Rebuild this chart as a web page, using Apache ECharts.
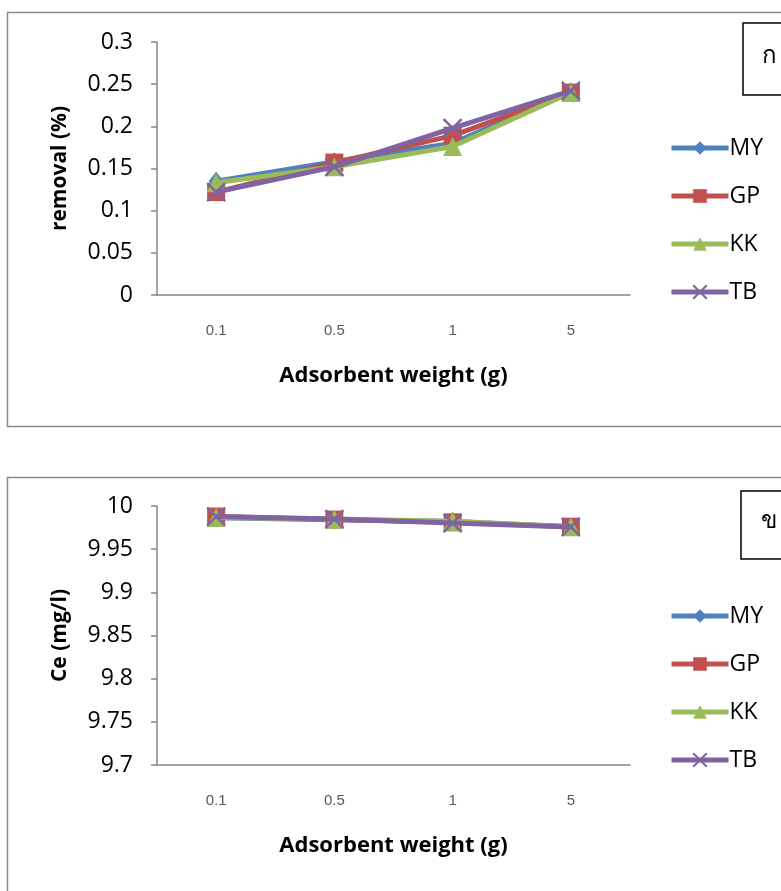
<!DOCTYPE html>
<html>
<head>
<meta charset="utf-8">
<script src="https://cdn.jsdelivr.net/npm/echarts@6/dist/echarts.min.js"></script>
<style>
html,body{margin:0;padding:0;background:#fff;}
#main{width:781px;height:891px;}
</style>
</head>
<body>
<div id="main"></div>
<script>
const categories = ['0.1', '0.5', '1', '5'];
const seriesNames = ['MY', 'GP', 'KK', 'TB'];

const removalMY = [0.135, 0.158, 0.180, 0.241];
const removalGP = [0.122, 0.157, 0.189, 0.240];
const removalKK = [0.133, 0.152, 0.176, 0.240];
const removalTB = [0.122, 0.152, 0.198, 0.242];

const ceMY = [9.9865, 9.9842, 9.9820, 9.9759];
const ceGP = [9.9878, 9.9843, 9.9811, 9.9760];
const ceKK = [9.9867, 9.9848, 9.9824, 9.9760];
const ceTB = [9.9878, 9.9848, 9.9802, 9.9758];

const removalTicks = { min: 0, max: 0.3, interval: 0.05 };
const ceTicks = { min: 9.7, max: 10, interval: 0.05 };

const colors = ['#4F81BD', '#C0504D', '#9BBB59', '#8064A2'];
const symbols = ['diamond', 'rect', 'triangle', 'path://M0,0L10,10M10,0L0,10'];
const symbolSizes = [[15, 19], 18, 19, 18];

const chart = echarts.init(document.getElementById('main'), null, { renderer: 'canvas' });

const axisGray = '#868686';
const FONT = '"Open Sans", "Noto Sans", sans-serif';

function makeSeries(name, idx, data, xi) {
  const isX = idx === 3;
  return {
    name: name,
    type: 'line',
    xAxisIndex: xi,
    yAxisIndex: xi,
    data: data,
    symbol: symbols[idx],
    symbolSize: symbolSizes[idx],
    showAllSymbol: true,
    lineStyle: { color: colors[idx], width: 5 },
    itemStyle: isX
      ? { color: colors[idx], borderColor: colors[idx], borderWidth: 2.5 }
      : { color: colors[idx], borderWidth: 0 },
    emphasis: { disabled: true },
    z: 2 + idx
  };
}

function yAxisDef(gi, ticks, name) {
  return {
    type: 'value',
    gridIndex: gi,
    min: ticks.min,
    max: ticks.max,
    interval: ticks.interval,
    name: name,
    nameLocation: 'middle',
    nameGap: 86,
    nameRotate: 90,
    nameTextStyle: { fontFamily: FONT, fontWeight: 'bold', fontSize: 21, color: '#000' },
    axisLine: { show: true, lineStyle: { color: axisGray, width: 1.5 } },
    axisTick: { show: true, length: 6, inside: false, lineStyle: { color: axisGray, width: 1.5 } },
    axisLabel: { fontFamily: FONT, fontSize: 23, color: '#000', margin: 24 },
    splitLine: { show: false }
  };
}

function xAxisDef(gi) {
  return {
    type: 'category',
    gridIndex: gi,
    data: categories,
    boundaryGap: true,
    name: 'Adsorbent weight (g)',
    nameLocation: 'middle',
    nameGap: 70,
    nameTextStyle: { fontFamily: FONT, fontWeight: 'bold', fontSize: 22, color: '#000' },
    axisLine: { show: true, lineStyle: { color: axisGray, width: 1.5 } },
    axisTick: { show: false },
    axisLabel: { fontFamily: '"Liberation Sans", Arial, sans-serif', fontSize: 15, color: '#595959', margin: 28 },
    splitLine: { show: false }
  };
}

function legendDef(top) {
  return {
    data: seriesNames,
    orient: 'vertical',
    left: 664,
    top: top,
    itemWidth: 57,
    itemHeight: 17,
    itemGap: 24,
    lineStyle: { width: 5 },
    textStyle: { fontFamily: FONT, fontSize: 23, color: '#000', lineHeight: 24, padding: [0, 0, 0, -4] },
    selectedMode: false
  };
}

const topData = [removalMY, removalGP, removalKK, removalTB];
const botData = [ceMY, ceGP, ceKK, ceTB];

const series = [];
seriesNames.forEach((n, i) => series.push(makeSeries(n, i, topData[i], 0)));
seriesNames.forEach((n, i) => series.push(makeSeries(n, i, botData[i], 1)));

const option = {
  backgroundColor: '#fff',
  animation: false,
  grid: [
    { left: 157, right: 151, top: 42, height: 253, containLabel: false },
    { left: 157, right: 151, top: 506, height: 259, containLabel: false }
  ],
  xAxis: [xAxisDef(0), xAxisDef(1)],
  yAxis: [yAxisDef(0, removalTicks, 'removal (%)'), yAxisDef(1, ceTicks, 'Ce (mg/l)')],
  legend: [legendDef(131), legendDef(599)],
  series: series,
  graphic: [
    { type: 'rect', shape: { x: 7.5, y: 12.5, width: 800, height: 414 }, style: { fill: 'none', stroke: '#8a8a8a', lineWidth: 1.5 }, silent: true, z: -1 },
    { type: 'rect', shape: { x: 7.5, y: 477.5, width: 800, height: 450 }, style: { fill: 'none', stroke: '#8a8a8a', lineWidth: 1.5 }, silent: true, z: -1 },
    { type: 'rect', shape: { x: 743, y: 23, width: 60, height: 72 }, style: { fill: '#fff', stroke: '#000', lineWidth: 1.5 }, silent: true, z: 10 },
    { type: 'rect', shape: { x: 741, y: 491, width: 60, height: 68 }, style: { fill: '#fff', stroke: '#000', lineWidth: 1.5 }, silent: true, z: 10 },
    { type: 'text', left: 762, top: 45, style: { text: 'ก', font: '24px serif', fill: '#000' }, silent: true, z: 11 },
    { type: 'text', left: 761, top: 510, style: { text: 'ข', font: '24px serif', fill: '#000' }, silent: true, z: 11 }
  ]
};

chart.setOption(option);
</script>
</body>
</html>
